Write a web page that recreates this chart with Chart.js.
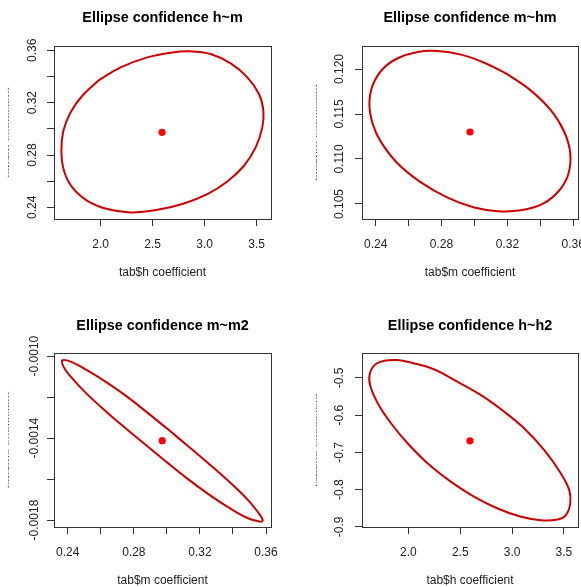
<!DOCTYPE html>
<html>
<head>
<meta charset="utf-8">
<script src="https://cdn.jsdelivr.net/npm/chart.js"></script>
<style>
  body { margin: 0; background: #fff; }
  #wrap { position: relative; width: 581px; height: 587px; overflow: hidden; }
  canvas { position: absolute; }
</style>
</head>
<body>
<div id="wrap">
  <canvas id="c1" width="290" height="293" style="left:0;top:0"></canvas>
  <canvas id="c2" width="291" height="293" style="left:290px;top:0"></canvas>
  <canvas id="c3" width="290" height="294" style="left:0;top:293px"></canvas>
  <canvas id="c4" width="291" height="294" style="left:290px;top:293px"></canvas>
</div>
<script>
const FONT = '"Liberation Sans", Arial, Helvetica, sans-serif';

// h ~ m  (outline starts on a flat stretch so the closing join does not show)
const hmX = [1.984, 2.192, 2.448, 2.673, 2.865, 3.057, 3.250, 3.410, 3.522, 3.564, 3.554, 3.490, 3.378, 3.218, 3.025, 2.801, 2.545, 2.288, 2.064, 1.872, 1.727, 1.647, 1.622, 1.641, 1.711, 1.823, 1.984];
const hmY = [0.3373, 0.3470, 0.3546, 0.3582, 0.3592, 0.3572, 0.3500, 0.3393, 0.3266, 0.3138, 0.3011, 0.2858, 0.2718, 0.2598, 0.2501, 0.2430, 0.2381, 0.2361, 0.2387, 0.2450, 0.2552, 0.2680, 0.2833, 0.2985, 0.3126, 0.3253, 0.3373];
const hmCenter = [2.59, 0.2973];
const hmXRange = [1.551, 3.6375];
const hmYRange = [0.2311, 0.3633];
const hmXTicks = [2.0, 2.5, 3.0, 3.5];
const hmXLabels = ["2.0", "2.5", "3.0", "3.5"];
const hmYTicks = [0.24, 0.26, 0.28, 0.30, 0.32, 0.34, 0.36];
const hmYLabels = ["0.24", "", "0.28", "", "0.32", "", "0.36"];

// m ~ hm
const mhmX = [0.3202, 0.3343, 0.3465, 0.3546, 0.3582, 0.3570, 0.3515, 0.3414, 0.3282, 0.3141, 0.2999, 0.2837, 0.2675, 0.2534, 0.2432, 0.2382, 0.2362, 0.2382, 0.2443, 0.2534, 0.2655, 0.2777, 0.2918, 0.3060, 0.3202];
const mhmY = [0.1194, 0.1176, 0.1154, 0.1130, 0.1106, 0.1083, 0.1065, 0.1050, 0.1043, 0.1042, 0.1046, 0.1057, 0.1074, 0.1095, 0.1119, 0.1139, 0.1161, 0.1182, 0.1200, 0.1212, 0.1219, 0.1220, 0.1216, 0.1207, 0.1194];
const mhmCenter = [0.2973, 0.1130];
const mhmXRange = [0.2317, 0.3629];
const mhmYRange = [0.10333, 0.12256];
const mXTicks = [0.24, 0.26, 0.28, 0.30, 0.32, 0.34, 0.36];
const mXLabels = ["0.24", "", "0.28", "", "0.32", "", "0.36"];
const mhmYTicks = [0.105, 0.110, 0.115, 0.120];
const mhmYLabels = ["0.105", "0.110", "0.115", "0.120"];

// m ~ m2
const mm2X = [0.3003, 0.3124, 0.3245, 0.3366, 0.3487, 0.3557, 0.3580, 0.3567, 0.3487, 0.3366, 0.3245, 0.3124, 0.3003,
              0.2882, 0.2761, 0.2640, 0.2519, 0.2418, 0.2377, 0.2367, 0.2418, 0.2519, 0.2640, 0.2761, 0.2882, 0.3003];
const mm2Y = [-0.001355, -0.001436, -0.001519, -0.001605, -0.001699, -0.001768, -0.001800, -0.001808, -0.001790, -0.001735, -0.001670, -0.001598, -0.001520,
              -0.001440, -0.001359, -0.001276, -0.001187, -0.001100, -0.001055, -0.001021, -0.001027, -0.001070, -0.001131, -0.001199, -0.001276, -0.001355];
const mm2Center = [0.2972, -0.001413];
const mm2XRange = [0.2317, 0.3630];
const mm2YRange = [-0.001834, -0.000985];
const mm2YTicks = [-0.0018, -0.0016, -0.0014, -0.0012, -0.0010];
const mm2YLabels = ["-0.0018", "", "-0.0014", "", "-0.0010"];

// h ~ h2
const hh2X = [2.4757, 2.7005, 2.9253, 3.1179, 3.3106, 3.4712, 3.5515, 3.5611, 3.5193, 3.4391, 3.2785, 3.0858, 2.8610, 2.6362, 2.4115, 2.1867, 1.9940, 1.8334, 1.7050, 1.6343, 1.6247, 1.6729, 1.7692, 1.8976, 2.0582, 2.2509, 2.4757];
const hh2Y = [-0.5106, -0.5464, -0.5911, -0.6359, -0.6940, -0.7567, -0.8014, -0.8372, -0.8685, -0.8802, -0.8820, -0.8730, -0.8507, -0.8193, -0.7791, -0.7298, -0.6762, -0.6225, -0.5688, -0.5240, -0.4927, -0.4659, -0.4542, -0.4524, -0.4614, -0.4775, -0.5106];
const hh2Center = [2.594, -0.669];
const hh2XRange = [1.552, 3.636];
const hh2YRange = [-0.9003, -0.4333];
const hXTicks = [2.0, 2.5, 3.0, 3.5];
const hXLabels = ["2.0", "2.5", "3.0", "3.5"];
const hh2YTicks = [-0.9, -0.8, -0.7, -0.6, -0.5];
const hh2YLabels = ["-0.9", "-0.8", "-0.7", "-0.6", "-0.5"];

const panels = [
  { id: 'c1', x0: 0, y0: 0, area: [54, 46, 271, 219], titleY: 18, yLabelX: 33, yTitleX: 9,
    title: 'Ellipse confidence h~m', xTitle: 'tab$h coefficient', yTitle: 'tab$m coefficient',
    ex: hmX, ey: hmY, c: hmCenter, xr: hmXRange, yr: hmYRange,
    xt: hmXTicks, xl: hmXLabels, yt: hmYTicks, yl: hmYLabels },
  { id: 'c2', x0: 290, y0: 0, area: [362, 46, 578, 219], titleY: 18, yLabelX: 340, yTitleX: 317,
    title: 'Ellipse confidence m~hm', xTitle: 'tab$m coefficient', yTitle: 'tab$hm coefficient',
    ex: mhmX, ey: mhmY, c: mhmCenter, xr: mhmXRange, yr: mhmYRange,
    xt: mXTicks, xl: mXLabels, yt: mhmYTicks, yl: mhmYLabels },
  { id: 'c3', x0: 0, y0: 293, area: [54, 353, 271, 527], titleY: 326, yLabelX: 35, yTitleX: 9,
    title: 'Ellipse confidence m~m2', xTitle: 'tab$m coefficient', yTitle: 'tab$m2 coefficient',
    ex: mm2X, ey: mm2Y, c: mm2Center, xr: mm2XRange, yr: mm2YRange,
    xt: mXTicks, xl: mXLabels, yt: mm2YTicks, yl: mm2YLabels },
  { id: 'c4', x0: 290, y0: 293, area: [362, 353, 578, 527], titleY: 326, yLabelX: 340, yTitleX: 317,
    title: 'Ellipse confidence h~h2', xTitle: 'tab$h coefficient', yTitle: 'tab$h2 coefficient',
    ex: hh2X, ey: hh2Y, c: hh2Center, xr: hh2XRange, yr: hh2YRange,
    xt: hXTicks, xl: hXLabels, yt: hh2YTicks, yl: hh2YLabels }
];

// R style box around the plot region
const boxPlugin = {
  id: 'box',
  afterDatasetsDraw(chart) {
    const { ctx, chartArea: a } = chart;
    ctx.save();
    ctx.strokeStyle = '#333';
    ctx.lineWidth = 1;
    ctx.strokeRect(a.left + 0.5, a.top + 0.5, a.right - a.left, a.bottom - a.top);
    ctx.restore();
  }
};

// the y labels in the picture are squashed into a thin dotted line
const yTitlePlugin = {
  id: 'yTitle',
  afterDraw(chart, args, opts) {
    const { ctx, chartArea: a } = chart;
    ctx.save();
    ctx.translate(opts.x, (a.top + a.bottom) / 2);
    ctx.rotate(-Math.PI / 2);
    ctx.scale(1, 0.12);
    ctx.font = '12px ' + FONT;
    ctx.fillStyle = '#333';
    ctx.textAlign = 'center';
    ctx.textBaseline = 'middle';
    ctx.fillText(opts.text, 0, 0);
    ctx.restore();
  }
};

function makeChart(p) {
  const cv = document.getElementById(p.id);
  const W = cv.width, H = cv.height;
  const l = p.area[0] - p.x0, t = p.area[1] - p.y0, r = p.area[2] - p.x0, b = p.area[3] - p.y0;
  const titleY = p.titleY - p.y0;
  const mainLH = 14.4 * 1.2;
  const lh = 12 * 1.2;
  const tickLen = 7;
  const ctx = cv.getContext('2d');
  ctx.font = '12px ' + FONT;
  const widest = Math.max(...p.yl.map(s => ctx.measureText(s).width));
  const yPad = l - tickLen - widest / 2 - (p.yLabelX - p.x0);
  const xAxisH = H - b;
  const tickFont = { family: FONT, size: 12 };

  new Chart(cv, {
    type: 'scatter',
    data: {
      datasets: [
        {
          data: p.ex.map((x, i) => ({ x: x, y: p.ey[i] })),
          showLine: true,
          borderColor: '#cd0000',
          borderWidth: 2,
          pointRadius: 0,
          tension: 0.4,
          fill: false
        },
        {
          data: [{ x: p.c[0], y: p.c[1] }],
          pointRadius: 3.6,
          backgroundColor: '#ff0000',
          borderWidth: 0
        }
      ]
    },
    options: {
      responsive: false,
      animation: false,
      events: [],
      layout: { autoPadding: false, padding: { left: 0, right: W - r, top: 0, bottom: 0 } },
      plugins: {
        legend: { display: false },
        tooltip: { enabled: false },
        title: {
          display: true,
          fullSize: false,
          text: p.title,
          color: '#000',
          font: { family: FONT, size: 14.4, weight: 'bold' },
          padding: { top: titleY - mainLH / 2, bottom: t - titleY - mainLH / 2 }
        },
        yTitle: { x: p.yTitleX - p.x0, text: p.yTitle }
      },
      scales: {
        x: {
          type: 'linear',
          position: 'bottom',
          min: p.xr[0],
          max: p.xr[1],
          afterBuildTicks: s => { s.ticks = p.xt.map(v => ({ value: v })); },
          afterFit: s => { s.height = xAxisH; s.paddingLeft = 0; s.paddingRight = 0; },
          ticks: {
            autoSkip: false,
            minRotation: 0,
            maxRotation: 0,
            padding: 25.5 - tickLen - lh / 2,
            color: '#222',
            font: tickFont,
            callback: (v, i) => p.xl[i]
          },
          grid: { drawOnChartArea: false, drawTicks: true, tickLength: tickLen, color: '#333' },
          border: { display: false },
          title: {
            display: true,
            text: p.xTitle,
            color: '#222',
            font: tickFont,
            padding: { top: 0, bottom: xAxisH - 53.5 - lh / 2 }
          }
        },
        y: {
          type: 'linear',
          position: 'left',
          min: p.yr[0],
          max: p.yr[1],
          afterBuildTicks: s => { s.ticks = p.yt.map(v => ({ value: v })); },
          afterFit: s => { s.width = l; s.paddingTop = 0; s.paddingBottom = 0; },
          ticks: {
            autoSkip: false,
            minRotation: 90,
            maxRotation: 90,
            crossAlign: 'center',
            padding: yPad,
            color: '#222',
            font: tickFont,
            callback: (v, i) => p.yl[i]
          },
          grid: { drawOnChartArea: false, drawTicks: true, tickLength: tickLen, color: '#333' },
          border: { display: false }
        }
      }
    },
    plugins: [boxPlugin, yTitlePlugin]
  });
}

panels.forEach(makeChart);
</script>
</body>
</html>
